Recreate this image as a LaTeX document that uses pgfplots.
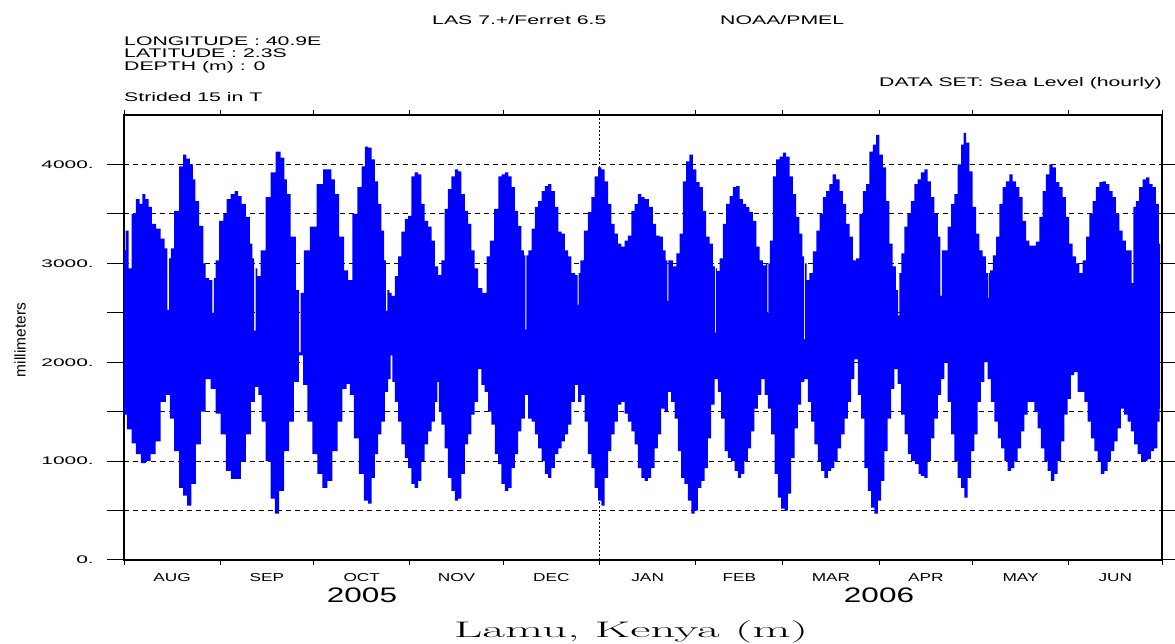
\documentclass[border=0pt]{standalone}
\usepackage{fontspec}
\usepackage{graphicx}
\usepackage{pgfplots}
\usepackage{pgfplotstable}
\pgfplotsset{compat=1.18}
\newfontfamily\hdr[FakeStretch=1.7]{Liberation Sans}
\newfontfamily\tck[FakeStretch=1.9]{Liberation Sans}
\newfontfamily\mon[FakeStretch=1.5]{Liberation Sans}
\newfontfamily\plain{Liberation Sans}
\definecolor{tide}{RGB}{0,0,255}

% days since 1 Aug 2005, sea level (mm): upper and lower envelope of the strided series
\pgfplotstableread{
d v
0.0 3130
1.0 3330
1.9 2950
3.0 3500
4.6 3650
5.5 3600
6.4 3700
7.4 3650
8.4 3570
9.6 3400
11.0 3350
12.6 3250
13.6 3150
14.3 2530
14.8 3050
15.3 3150
16.9 3530
18.5 3980
19.6 4100
20.6 4060
21.8 4000
22.6 3850
23.4 3630
25.0 3380
26.0 3000
26.6 2850
28.2 2830
28.7 2500
29.2 2850
29.8 3030
31.4 3430
32.5 3500
33.6 3650
35.0 3700
36.2 3730
37.3 3680
38.4 3600
40.0 3470
41.0 3200
41.6 3050
42.1 2320
42.6 2950
43.2 2870
44.8 3130
46.4 3670
48.0 3920
49.6 4130
51.2 4070
52.0 3850
52.8 3700
54.5 3270
56.1 2730
56.6 2100
57.1 2700
58.7 3130
60.9 3370
63.0 3800
65.2 3950
66.2 3950
67.3 3850
68.4 3700
70.0 3270
71.6 2930
72.7 2830
74.3 3500
75.9 3770
77.0 3980
78.0 4180
79.1 4170
80.2 4050
81.2 3830
82.3 3600
83.4 3330
84.0 3030
84.5 2520
85.0 2730
85.7 2700
86.6 2670
87.7 2870
88.7 3070
89.8 3320
90.9 3450
91.9 3480
93.0 3880
94.1 3920
95.2 3900
96.2 3600
97.3 3430
98.4 3370
99.5 3230
100.5 2970
101.6 2880
102.7 3030
103.7 3550
104.8 3750
105.9 3880
107.0 3950
108.0 3930
109.1 3700
110.2 3530
111.3 3400
112.3 3130
113.4 2950
114.5 2750
116.1 2700
117.2 3070
118.3 3230
119.9 3550
121.0 3880
122.0 3900
123.1 3920
124.2 3880
125.3 3770
126.3 3530
127.4 3380
128.4 3130
129.0 3080
129.3 2330
129.7 3080
130.6 3130
131.7 3350
132.7 3570
133.8 3630
134.9 3730
136.0 3780
137.0 3800
138.1 3730
139.2 3570
140.3 3320
141.3 3300
142.4 3130
143.4 3070
144.5 2900
145.8 2880
146.1 2580
146.5 2900
147.2 3030
148.8 3330
149.8 3520
150.9 3670
152.0 3880
153.1 3970
154.1 3950
155.2 3830
156.3 3600
157.3 3400
158.4 3300
159.5 3200
160.6 3170
161.6 3230
162.7 3280
163.8 3530
164.8 3600
165.9 3700
167.0 3670
168.0 3650
169.7 3570
170.7 3400
171.8 3280
172.9 3270
173.9 3130
174.7 3030
175.0 2620
175.3 3030
176.1 3030
177.2 2970
178.2 3100
179.3 3300
180.4 3830
181.4 4030
182.5 4100
183.6 3950
184.7 3820
185.7 3770
186.8 3530
187.9 3270
188.9 3200
190.0 2970
190.3 2300
190.6 2950
191.1 2920
192.2 3050
193.2 3400
194.3 3600
195.4 3680
196.5 3770
197.5 3780
198.6 3650
199.7 3600
200.7 3570
201.8 3520
202.9 3430
204.0 3170
205.0 3030
206.1 2980
206.9 3000
207.2 2500
207.5 3000
208.2 3230
209.3 3880
210.4 4050
211.5 4080
212.5 4120
213.6 4080
214.7 3880
215.7 3700
216.8 3470
217.9 3300
218.7 3070
219.0 2230
219.3 3000
220.0 2830
221.1 2900
222.2 3120
223.3 3330
224.3 3500
225.4 3670
226.5 3730
227.5 3800
228.6 3900
229.7 3850
230.8 3730
231.8 3600
232.9 3400
234.0 3270
235.0 3030
236.1 3050
237.2 3500
238.3 3730
239.3 3800
240.4 4130
241.5 4200
242.5 4300
243.6 4100
244.7 3970
245.8 3630
246.8 3200
247.9 2970
248.9 2730
249.3 2470
249.7 2900
250.6 3100
251.6 3370
252.6 3500
253.8 3630
254.9 3800
255.9 3850
257.0 3920
258.1 3950
259.1 3830
260.2 3670
261.3 3500
262.4 3270
262.9 2670
263.4 3130
264.5 3130
265.6 3370
266.7 3600
267.7 3700
268.8 4000
269.9 4200
270.4 4320
271.5 4220
272.5 3930
273.6 3570
274.7 3300
275.8 3130
276.8 3070
277.9 2900
278.1 2650
278.4 2900
279.0 2930
280.1 3080
281.1 3270
282.2 3600
283.3 3770
284.3 3830
285.4 3900
286.5 3830
287.6 3770
288.6 3670
289.7 3430
290.8 3230
291.8 3180
292.9 3180
294.0 3220
295.1 3470
296.1 3730
297.2 3900
298.3 4000
299.3 3970
300.4 3820
301.5 3770
302.6 3670
303.6 3470
304.7 3200
305.8 3070
306.9 3000
307.9 2900
309.0 3030
310.1 3270
311.1 3500
312.2 3630
313.3 3770
314.4 3820
315.4 3830
316.5 3800
317.6 3730
318.6 3670
319.7 3500
320.8 3330
321.9 3230
322.9 3130
324.0 3130
324.5 2800
325.1 3570
326.1 3630
327.2 3770
328.3 3850
329.4 3870
330.4 3800
331.5 3770
332.6 3600
333.4 3200
}\tabhi

\pgfplotstableread{
d v
0.0 1470
1.9 1320
3.0 1180
4.6 1070
6.2 980
7.8 1000
9.4 1070
11.0 1200
12.6 1600
14.3 1670
15.3 1430
16.9 1100
18.5 730
19.6 650
21.0 550
22.3 770
23.9 1170
25.5 1500
27.1 1830
28.7 1730
30.3 1480
31.9 1270
33.6 900
35.2 820
36.8 820
38.4 1000
40.0 1270
41.6 1600
42.7 1750
43.7 1670
44.8 1400
46.4 1000
48.0 620
49.1 470
50.7 700
52.3 1100
53.9 1400
55.5 1800
57.1 2070
58.2 1770
59.8 1400
61.4 1070
63.0 870
64.6 730
66.2 800
67.9 1100
69.5 1400
71.1 1730
72.1 1780
73.2 1670
74.8 1230
76.4 870
78.0 600
79.1 570
80.2 830
81.2 1070
82.3 1270
83.4 1400
84.5 1700
85.5 1830
86.1 2070
86.6 1800
87.7 1600
88.7 1400
89.8 1170
90.9 1030
91.9 930
93.0 770
94.1 730
95.2 800
96.2 1000
97.3 1170
98.4 1300
99.5 1400
100.5 1600
101.1 1800
101.6 1500
102.7 1370
103.7 1130
104.8 830
105.9 700
107.0 600
108.0 620
109.1 870
110.2 1170
111.3 1270
112.3 1470
113.4 1600
114.5 1930
115.5 1770
116.6 1700
117.7 1500
118.8 1370
119.8 1070
120.9 970
122.0 770
123.1 700
124.2 730
125.3 930
126.3 1070
127.4 1300
128.4 1430
129.5 1670
130.6 1430
131.7 1400
132.7 1270
133.8 1130
134.9 1000
136.0 870
137.0 830
138.1 930
139.2 1070
140.3 1130
141.3 1200
142.4 1270
143.4 1370
144.5 1600
145.6 1770
146.6 1600
147.7 1670
148.8 1400
149.8 1070
150.9 930
152.0 730
153.1 600
154.1 550
155.2 830
156.3 1100
157.3 1270
158.4 1400
159.5 1570
160.6 1600
161.6 1480
162.7 1400
163.8 1300
164.8 1170
165.9 930
167.0 830
168.0 800
169.1 830
170.2 930
171.3 1130
172.3 1270
173.4 1530
174.5 1500
175.5 1700
176.6 1600
177.7 1430
178.8 1100
179.8 830
180.9 770
182.0 600
183.1 470
184.1 500
185.2 730
186.3 800
187.3 930
188.4 1230
189.5 1570
190.6 1830
191.6 1700
192.7 1430
193.8 1100
194.8 1030
195.9 1000
197.0 900
198.1 830
199.1 870
200.2 1000
201.3 1130
202.3 1300
203.4 1530
204.5 1670
205.6 1830
206.6 1670
207.7 1530
208.8 1270
209.9 870
210.9 630
212.0 520
213.1 500
214.1 670
215.2 1030
216.3 1330
217.4 1570
218.4 1800
219.5 1830
220.6 1600
221.6 1400
222.7 1170
223.8 1000
224.9 900
225.9 830
227.0 900
228.1 930
229.1 1000
230.2 1130
231.3 1270
232.4 1430
233.4 1600
234.5 1830
235.6 2030
236.6 1670
237.7 1430
238.8 930
239.9 700
240.9 530
242.0 470
243.1 600
244.2 800
245.2 1100
246.3 1430
247.4 1730
248.4 1930
249.5 1780
250.6 1470
251.7 1270
252.7 1070
253.8 1000
255.4 970
255.9 870
257.0 850
258.1 830
259.1 1000
260.2 1230
261.3 1430
262.4 1670
263.4 1830
264.5 2000
265.6 1600
266.7 1270
267.7 1000
268.8 830
269.9 730
270.9 630
272.0 830
273.1 1100
274.2 1270
275.2 1600
276.3 1800
277.4 2000
278.4 1830
279.5 1600
280.6 1400
281.7 1230
282.7 1130
283.8 1000
284.9 900
286.0 930
287.0 1000
288.1 1130
289.2 1300
290.2 1470
291.3 1600
292.4 1600
293.5 1500
294.5 1330
295.6 1130
296.7 1000
297.7 900
298.8 800
299.9 870
301.0 1000
302.0 1200
303.1 1470
304.2 1630
305.2 1870
306.3 1900
307.4 1700
308.5 1700
309.5 1600
310.6 1400
311.7 1230
312.7 1100
313.8 1000
314.9 870
316.0 900
317.0 1000
318.1 1100
319.2 1200
320.3 1330
321.3 1530
322.4 1470
323.5 1400
324.5 1300
325.6 1170
326.7 1070
327.8 1000
328.8 1000
329.9 1020
331.0 1100
332.0 1130
333.1 1400
333.4 1530
}\tablo

% one closed outline: upper envelope forward, lower envelope backward
\pgfplotstablesort[sort key=d, sort cmp=float >]{\tabloR}{\tablo}
\pgfplotstablevertcat{\tabhi}{\tabloR}

\begin{document}
\begin{tikzpicture}[x=1pt,y=1pt]
\begin{axis}[
  at={(124pt,84pt)}, anchor=south west, scale only axis,
  width=1038pt, height=445pt,
  xmin=0, xmax=334, ymin=0, ymax=4500,
  axis line style={line width=1.3pt},
  tick align=outside,
  major tick length=17pt, minor tick length=5pt,
  every tick/.style={black, line width=1pt},
  ytick={0,500,...,4000},
  yticklabels={0.,,1000.,,2000.,,3000.,,4000.},
  yticklabel style={font=\tck\fontsize{11}{12}\selectfont, anchor=east, inner sep=0pt, xshift=-13pt},
  ymajorgrids,
  major grid style={black, line width=0.8pt, dash pattern=on 5pt off 4pt},
  xtick={15.5,46,76.5,107,137.5,168.5,198,227.5,258,288.5,319},
  xticklabels={AUG,SEP,OCT,NOV,DEC,JAN,FEB,MAR,APR,MAY,JUN},
  every major x tick/.append style={draw=none},
  xticklabel style={font=\mon\fontsize{11.5}{12}\selectfont, anchor=base, inner sep=0pt, yshift=-5pt},
  minor xtick={0,31,61,92,122,153,184,212,243,273,304,334},
  extra x ticks={153}, extra x tick labels={},
  extra x tick style={grid=major, major grid style={black, line width=1.2pt, dash pattern=on 2pt off 2pt}},
]
\addplot[fill=tide, draw=none, const plot mark mid] table[x=d, y=v] {\tabhi};
\end{axis}
\begin{scope}[every node/.style={inner sep=0pt, black}]
\node[anchor=base west, font=\hdr\fontsize{12.5}{14}\selectfont] at (432,619.5) {LAS 7.+/Ferret 6.5};
\node[anchor=base west, font=\hdr\fontsize{12.5}{14}\selectfont] at (720,619.5) {NOAA/PMEL};
\node[anchor=base west, font=\hdr\fontsize{12.5}{14}\selectfont] at (124,598.5) {LONGITUDE : 40.9E};
\node[anchor=base west, font=\hdr\fontsize{12.5}{14}\selectfont] at (124,586) {LATITUDE : 2.3S};
\node[anchor=base west, font=\hdr\fontsize{12.5}{14}\selectfont] at (124,573) {DEPTH (m) : 0};
\node[anchor=base west, font=\hdr\fontsize{12.5}{14}\selectfont] at (124,542.5) {Strided 15 in T};
\node[anchor=base east, font=\hdr\fontsize{12.5}{14}\selectfont] at (1162,557.5) {DATA SET: Sea Level (hourly)};
\node[anchor=base, font=\mon\fontsize{21}{22}\selectfont] at (362,41.5) {2005};
\node[anchor=base, font=\mon\fontsize{21}{22}\selectfont] at (879,41.5) {2006};
\node[anchor=base] at (631,6.5) {\scalebox{2.2}[1]{\fontsize{22.5}{24}\selectfont\rmfamily Lamu, Kenya (m)}};
\node[rotate=90, font=\plain\fontsize{15.5}{16}\selectfont] at (20,304) {millimeters};
\end{scope}
\pgfresetboundingbox
\useasboundingbox (0,0) rectangle (1175,644);
\end{tikzpicture}
\end{document}
